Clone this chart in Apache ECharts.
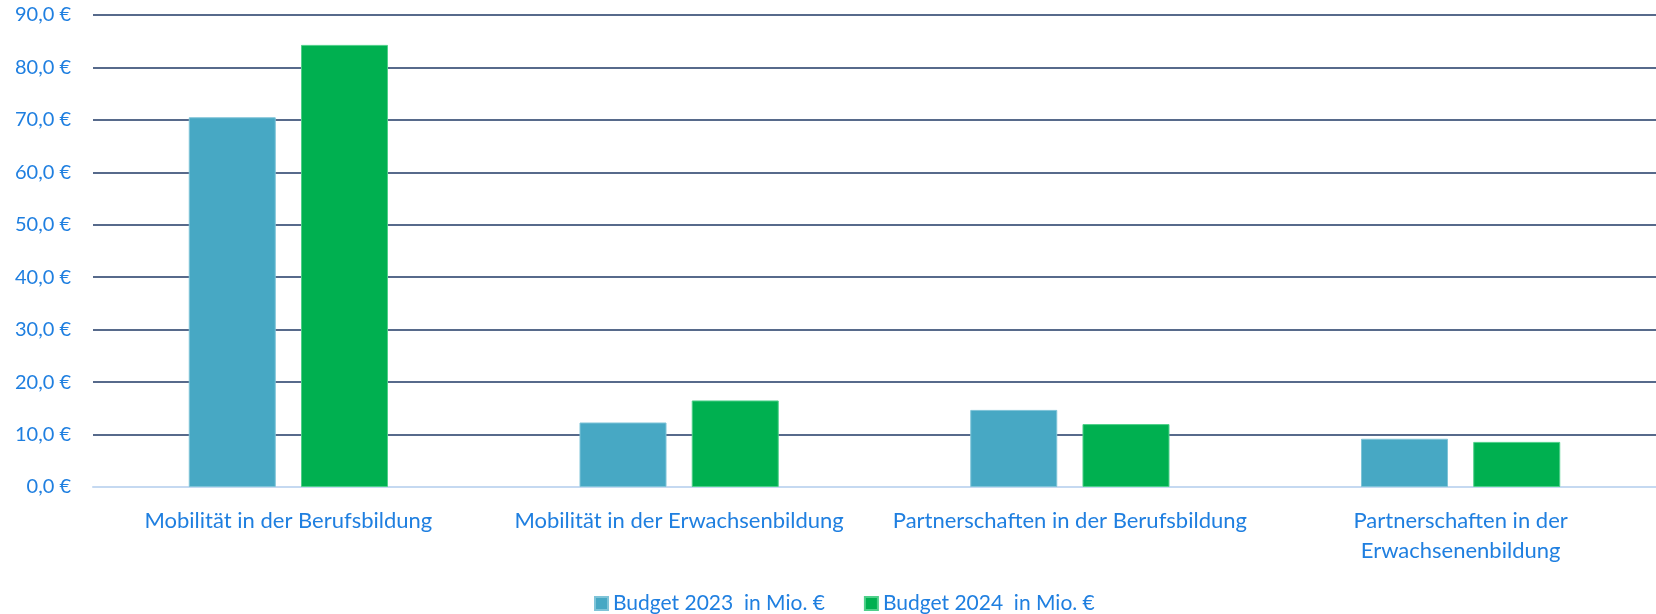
<!DOCTYPE html>
<html>
<head>
<meta charset="utf-8">
<script src="https://cdn.jsdelivr.net/npm/echarts@6/dist/echarts.min.js"></script>
<style>
  html, body { margin: 0; padding: 0; background: #fff; }
  #chart { width: 1656px; height: 614px; }
</style>
</head>
<body>
<div id="chart"></div>
<script>
// values (Mio. €)
const categories = [
  'Mobilität in der Berufsbildung',
  'Mobilität in der Erwachsenbildung',
  'Partnerschaften in der Berufsbildung',
  'Partnerschaften in der\nErwachsenenbildung'
];
const budget2023 = [70.5, 12.3, 14.7, 9.2];
const budget2024 = [84.3, 16.5, 12.0, 8.6];
const seriesNames = ['Budget 2023  in Mio. €', 'Budget 2024  in Mio. €'];
const yTickLabels = ['0,0 €', '10,0 €', '20,0 €', '30,0 €', '40,0 €', '50,0 €', '60,0 €', '70,0 €', '80,0 €', '90,0 €'];

const textColor = '#1f7fe0';
const font = 'Lato';

let chart = echarts.init(document.getElementById('chart'));
chart.setOption({
  animation: false,
  color: ['#47a8c4', '#00b050'],
  textStyle: { fontFamily: font },
  grid: { left: 93, right: 0, top: 15, bottom: 127 },
  legend: {
    left: 589,
    top: 588,
    itemWidth: 13,
    itemHeight: 13,
    itemGap: 39,
    icon: 'rect',
    textStyle: { color: textColor, fontSize: 21, fontFamily: font },
    data: seriesNames
  },
  xAxis: {
    type: 'category',
    data: categories,
    axisLine: { lineStyle: { color: '#c5d9f1', width: 2 } },
    axisTick: { show: false },
    axisLabel: {
      color: textColor,
      fontSize: 22,
      fontFamily: font,
      margin: 19,
      lineHeight: 30,
      interval: 0
    }
  },
  yAxis: {
    type: 'value',
    min: 0,
    max: 90,
    interval: 10,
    axisLine: { show: false },
    axisTick: { show: false },
    splitLine: { lineStyle: { color: '#1f3864', width: 1.5 } },
    axisLabel: {
      color: textColor,
      fontSize: 20,
      fontFamily: font,
      margin: 22,
      formatter: (v) => yTickLabels[Math.round(v / 10)]
    }
  },
  series: [
    {
      name: seriesNames[0],
      type: 'bar',
      data: budget2023,
      barWidth: 87,
      barGap: '29%',
      itemStyle: { borderColor: '#7fc4d8', borderWidth: 1 }
    },
    {
      name: seriesNames[1],
      type: 'bar',
      data: budget2024,
      barWidth: 87,
      barGap: '29%',
      itemStyle: { borderColor: '#4fd08a', borderWidth: 1 }
    }
  ]
});
</script>
</body>
</html>
